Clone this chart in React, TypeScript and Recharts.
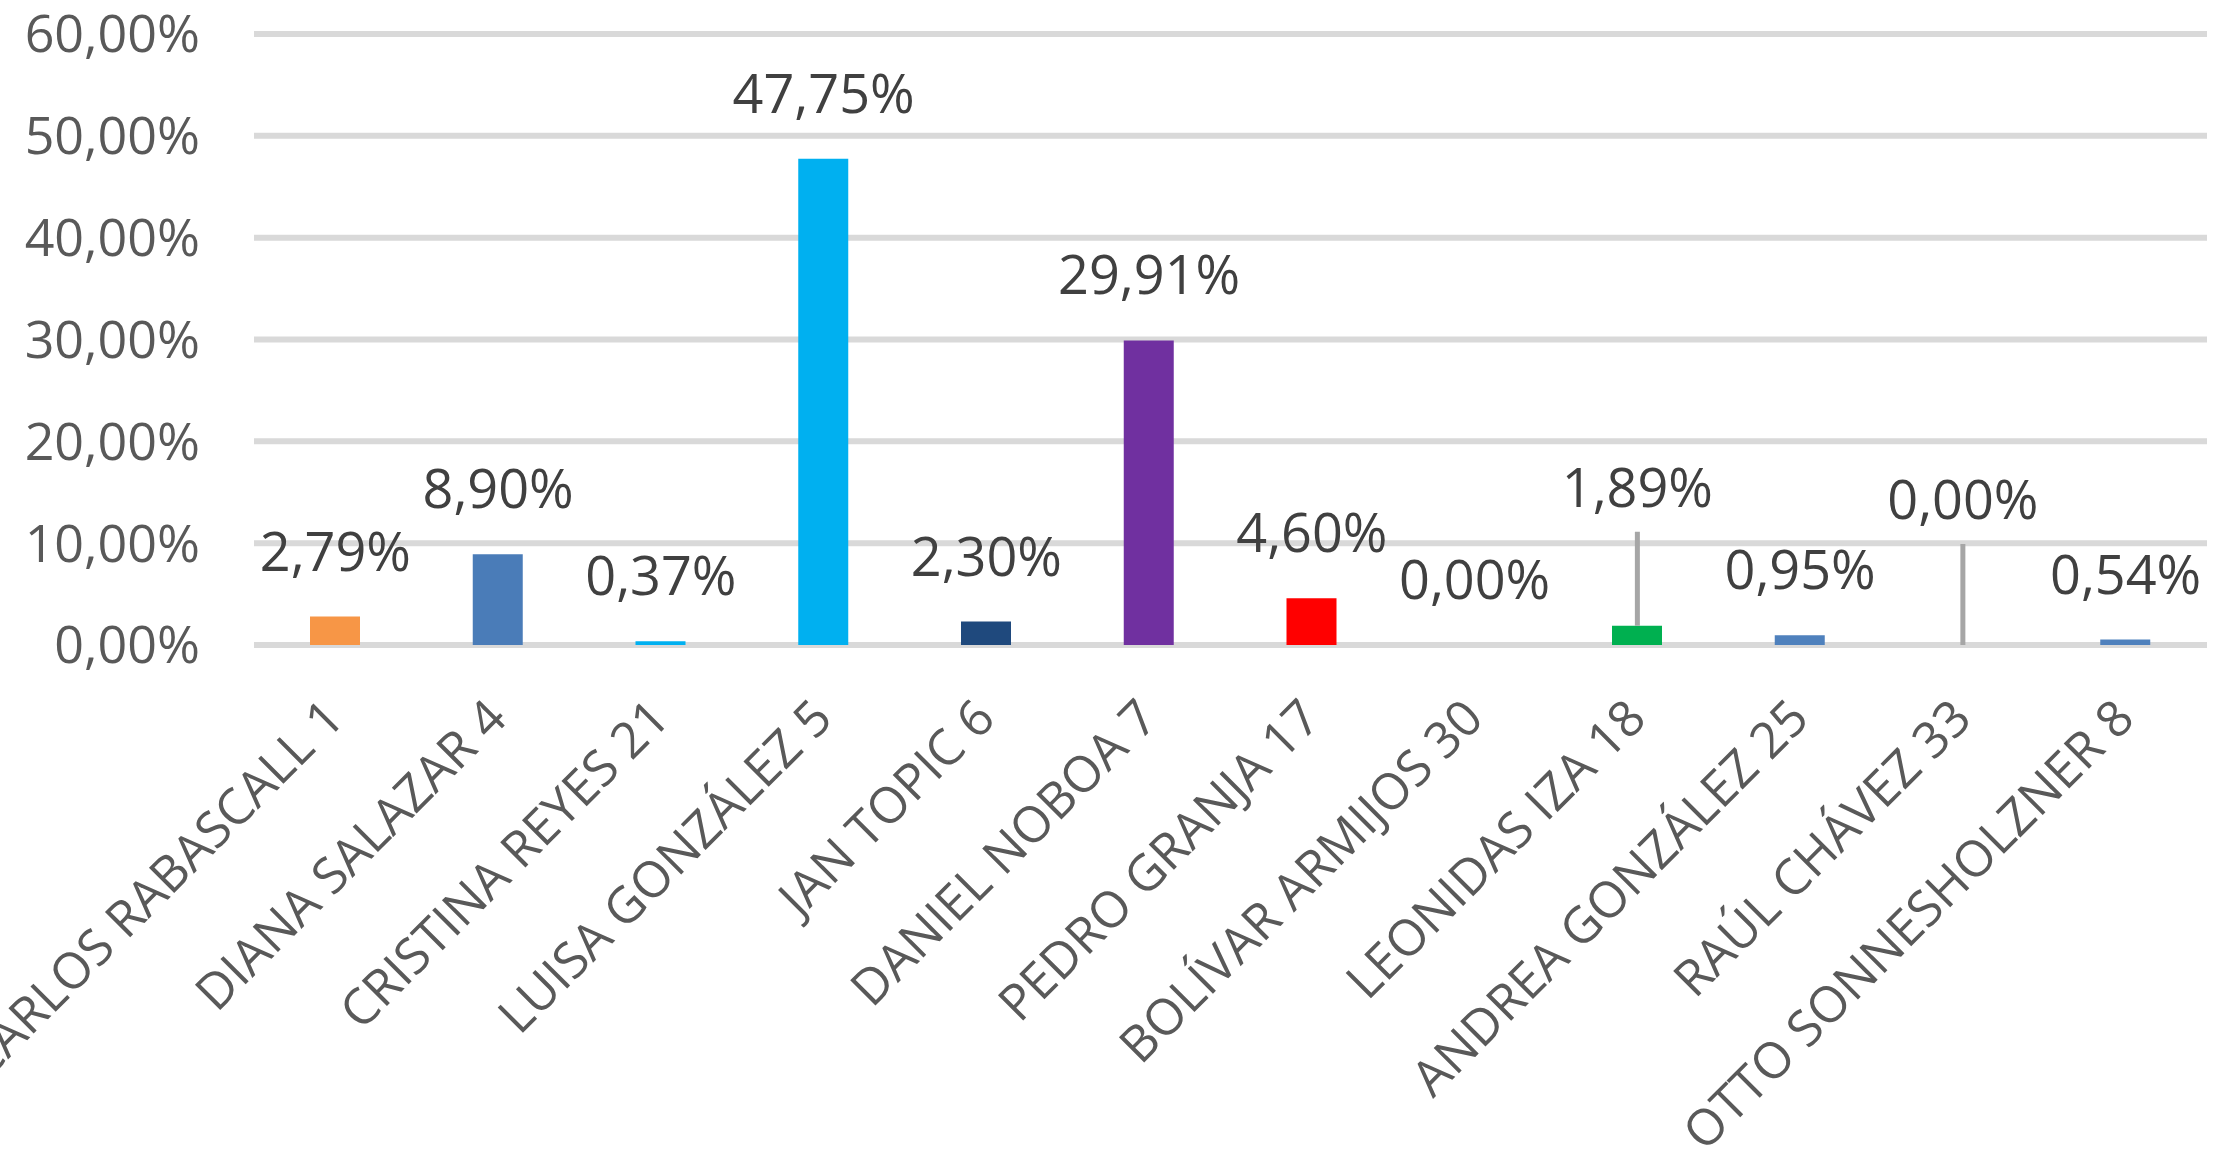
import { Bar, CartesianGrid, Cell, ComposedChart, LabelList, Line, XAxis, YAxis } from 'recharts'

const candidates = [
	'CARLOS RABASCALL 1',
	'DIANA SALAZAR 4',
	'CRISTINA REYES 21',
	'LUISA GONZÁLEZ 5',
	'JAN TOPIC 6',
	'DANIEL NOBOA 7',
	'PEDRO GRANJA 17',
	'BOLÍVAR ARMIJOS 30',
	'LEONIDAS IZA 18',
	'ANDREA GONZÁLEZ 25',
	'RAÚL CHÁVEZ 33',
	'OTTO SONNESHOLZNER 8',
]

const votePercent = [2.79, 8.9, 0.37, 47.75, 2.3, 29.91, 4.6, 0, 1.89, 0.95, 0, 0.54]

const yTicks = [0, 10, 20, 30, 40, 50, 60]

const barColors = [
	'#F79646',
	'#4A7CB8',
	'#00B0F0',
	'#00B0F0',
	'#1F497D',
	'#7030A0',
	'#FF0000',
	'#4F81BD',
	'#00B050',
	'#4F81BD',
	'#4F81BD',
	'#4F81BD',
]

// labels that Excel pulled up, with a leader line back to the bar
const raisedLabels: Record<number, number> = { 8: 119, 10: 126 }

const data = candidates.map((name, i) => ({ name, value: votePercent[i] }))

const FONT = '"Open Sans", sans-serif'

const fmt = (v: number) => `${Number(v).toFixed(2).replace('.', ',')}%`

const XTick = ({ x, y, payload }: any) => {
	const ax = x + 11
	const ay = y + 68
	return (
		<text
			x={ax}
			y={ay}
			transform={`rotate(-45, ${ax}, ${ay})`}
			textAnchor='end'
			fill='#595959'
			fontSize={50}
			fontFamily={FONT}
		>
			{payload.value}
		</text>
	)
}

// drawn from an invisible line series so zero values get a label too
const ValueLabel = (props: any) => {
	const { x, y, value, index } = props
	const cx = Number(x)
	const top = Number(y)
	const lift = raisedLabels[index] ?? 46
	const baseline = top - lift
	return (
		<g>
			{raisedLabels[index] !== undefined && (
				<line x1={cx} x2={cx} y1={top} y2={baseline + 25} stroke='#A6A6A6' strokeWidth={5} />
			)}
			<text x={cx} y={baseline} textAnchor='middle' fill='#404040' fontSize={54} fontFamily={FONT}>
				{fmt(value)}
			</text>
		</g>
	)
}

export default function App() {
	return (
		<div style={{ position: 'absolute', left: 0, top: 0, width: 2228, height: 1157, background: '#fff' }}>
			<ComposedChart
				width={2228}
				height={1157}
				data={data}
				margin={{ top: 34, right: 21, bottom: 0, left: 0 }}
				barCategoryGap={0}
			>
				<CartesianGrid stroke='#D9D9D9' strokeWidth={6} vertical={false} />
				<XAxis
					dataKey='name'
					interval={0}
					axisLine={false}
					tickLine={false}
					height={512}
					tick={<XTick />}
				/>
				<YAxis
					domain={[0, 60]}
					ticks={yTicks}
					width={254}
					axisLine={false}
					tickLine={false}
					tickMargin={48}
					tickFormatter={fmt}
					tick={{ fill: '#595959', fontSize: 52, fontFamily: FONT }}
				/>
				<Bar dataKey='value' barSize={50} isAnimationActive={false}>
					{data.map((d, i) => (
						<Cell key={d.name} fill={barColors[i]} />
					))}
				</Bar>
				<Line
					dataKey='value'
					stroke='none'
					dot={false}
					activeDot={false}
					legendType='none'
					isAnimationActive={false}
				>
					<LabelList dataKey='value' content={<ValueLabel />} />
				</Line>
			</ComposedChart>
		</div>
	)
}
